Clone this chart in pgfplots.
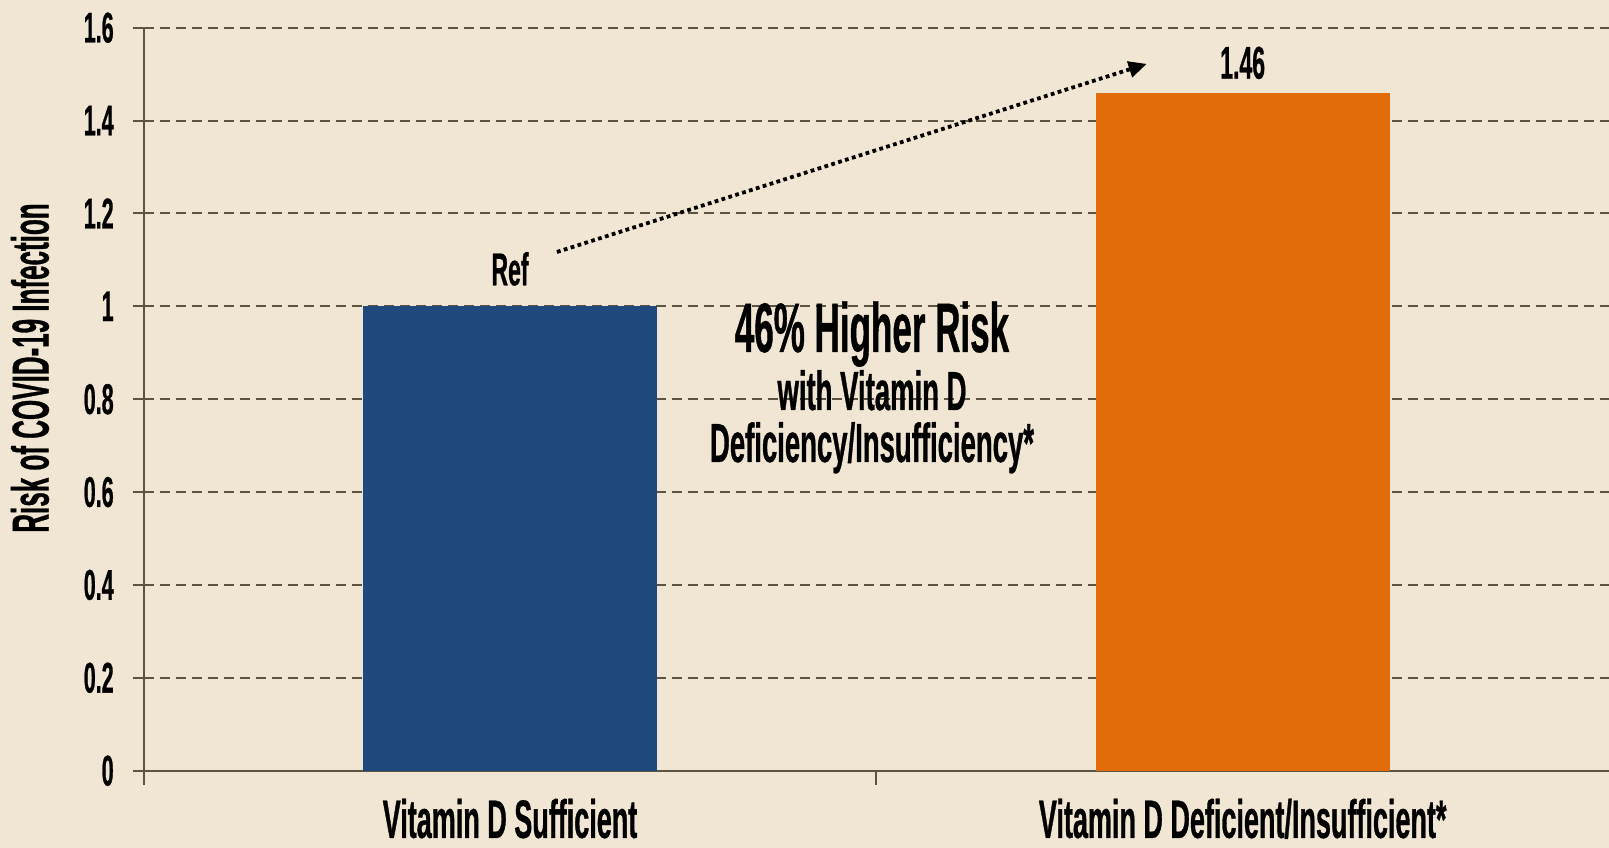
\documentclass[border=0pt]{standalone}
\usepackage{fontspec}
\setmainfont{Liberation Sans}[FakeStretch=0.5, FakeBold=0.6]
\usepackage{pgfplots}
\pgfplotsset{compat=1.18}
\usetikzlibrary{arrows.meta}
\definecolor{bg}{HTML}{F1E6D3}
\definecolor{axc}{HTML}{5A5440}
\definecolor{barblue}{HTML}{1F497D}
\definecolor{barorange}{HTML}{E36C0A}
\newcommand{\fs}[1]{\bfseries\fontsize{#1}{#1}\selectfont}
\begin{document}
\begin{tikzpicture}
\path[use as bounding box, fill=bg] (0,0) rectangle (804.5bp,424bp);
\begin{axis}[
  at={(71.85bp,38.65bp)}, anchor=south west,
  width=732.65bp, height=371.5bp, scale only axis,
  xmin=-0.5, xmax=1.5, ymin=0, ymax=1.6,
  enlargelimits=false,
  axis lines=left,
  axis line style={-, draw=axc, line width=1bp},
  xtick={0,1},
  xticklabels={Vitamin D Sufficient, Vitamin D Deficient/Insufficient*},
  major x tick style={draw=none},
  minor xtick={-0.5,0.5},
  ytick={0,0.2,0.4,0.6,0.8,1,1.2,1.4,1.6},
  tick style={draw=axc, line width=1bp},
  tick align=outside,
  major tick length=5.5bp,
  minor tick length=7bp,
  ymajorgrids,
  grid style={draw=axc, line width=1bp, dash pattern=on 5bp off 3bp},
  /pgf/number format/assume math mode=true,
  yticklabel style={font=\fs{21.5bp}, text=black, xshift=-6bp},
  xticklabel style={font=\fs{27bp}, text=black, yshift=-5bp},
  ybar, bar width=147bp,
]
\addplot[fill=barblue, draw=none, bar shift=0pt] coordinates {(0,1.00)};
\addplot[fill=barorange, draw=none, bar shift=0pt] coordinates {(1,1.46)};
\node[anchor=base, font=\fs{23bp}] at (axis cs:0,1) [yshift=10.5bp] {Ref};
\node[anchor=base, font=\fs{23bp}] at (axis cs:1,1.46) [yshift=7bp] {1.46};
\draw[line width=1.9bp, dash pattern=on 1.9bp off 1.7bp, -{Triangle[length=9bp,width=8bp]}]
  (axis cs:0.064,1.117) -- (axis cs:0.869,1.522);
\end{axis}
\node[anchor=base, font=\fs{35bp}] at (436bp,248bp) {46\% Higher Risk};
\node[anchor=base, font=\fs{27.5bp}] at (436bp,219bp) {with Vitamin D};
\node[anchor=base, font=\fs{27.5bp}] at (436bp,193bp) {Deficiency/Insufficiency*};
\node[rotate=90, font=\fs{26bp}] at (15bp,240bp) {Risk of COVID-19 Infection};
\end{tikzpicture}
\end{document}
